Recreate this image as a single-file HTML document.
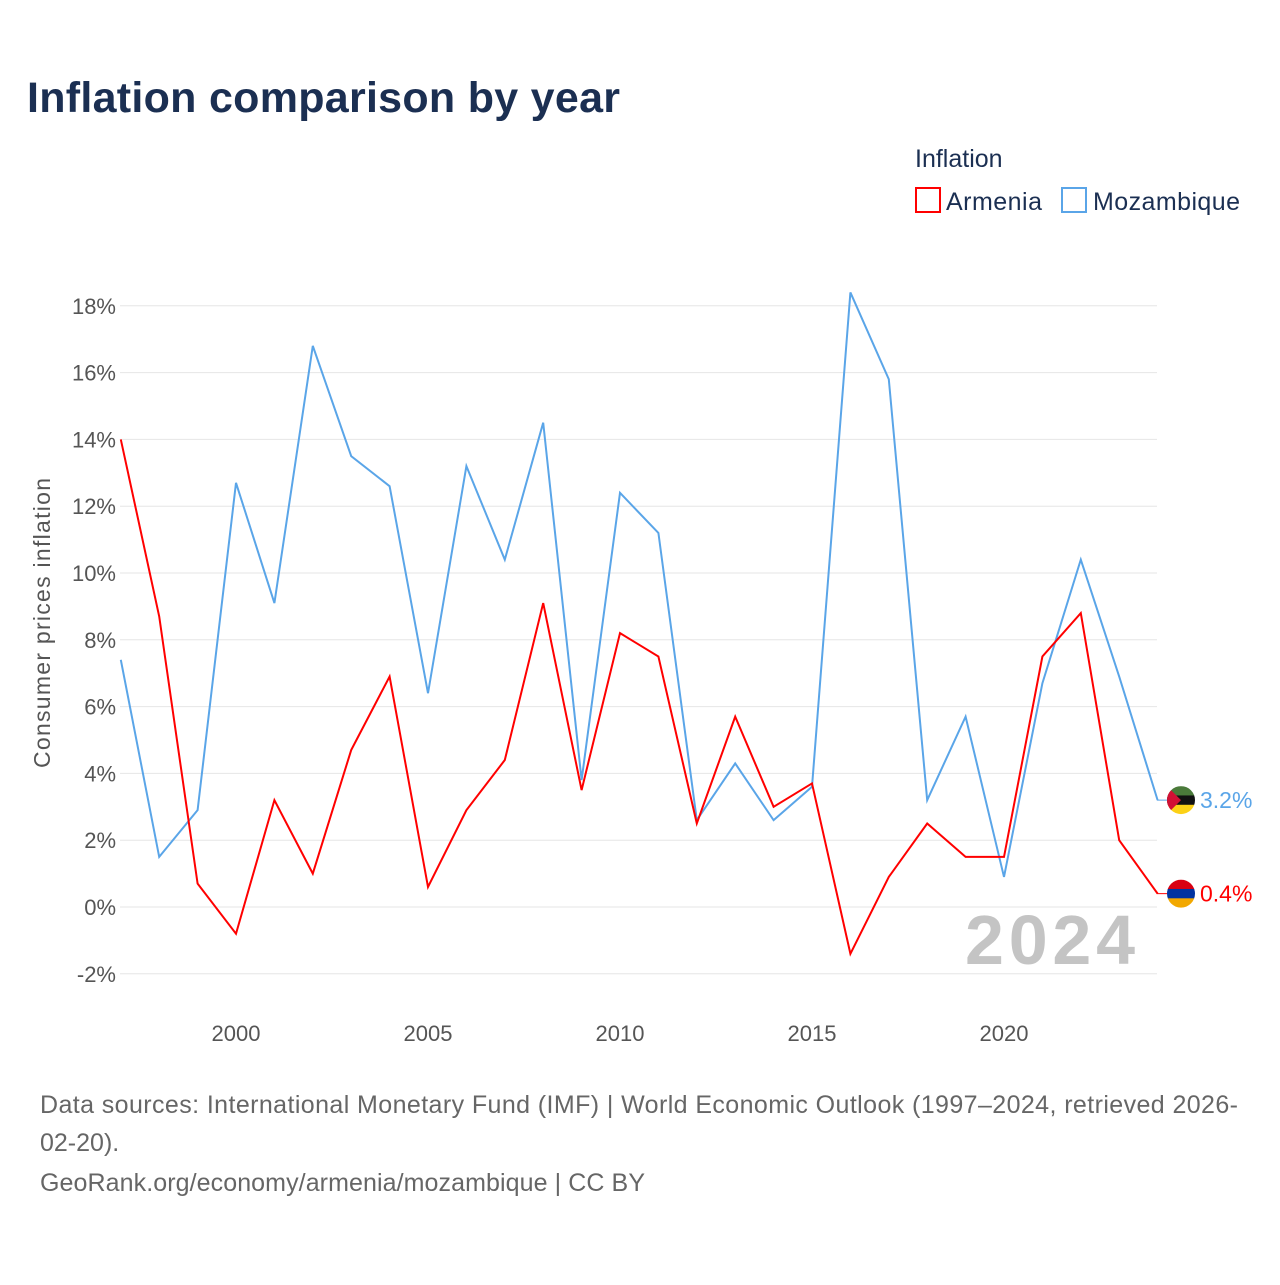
<!DOCTYPE html>
<html><head><meta charset="utf-8"><style>
body{margin:0;background:#fff;font-family:"Liberation Sans",sans-serif}
</style></head><body>
<svg id="chart" width="1280" height="1280" xmlns="http://www.w3.org/2000/svg">
<defs>
<clipPath id="cm"><circle cx="1181" cy="0" r="14"/></clipPath>
</defs>
<text x="27" y="112" font-size="43" font-weight="bold" fill="#1b2f52" textLength="593">Inflation comparison by year</text>
<text x="915" y="167" font-size="25" fill="#1b2f52">Inflation</text>
<g><rect x="916" y="188" width="24" height="24" fill="none" stroke="#f00" stroke-width="2"/><text x="946" y="210" font-size="25" fill="#1b2f52" textLength="96">Armenia</text></g>
<g><rect x="1062" y="188" width="24" height="24" fill="none" stroke="#5aa5e8" stroke-width="2"/><text x="1093" y="210" font-size="25" fill="#1b2f52" textLength="147">Mozambique</text></g>
<g id="grid"></g><g id="xt"></g><g id="series"></g>
<text x="1135" y="964" font-size="70" font-weight="bold" fill="#c4c4c4" text-anchor="end" textLength="170">2024</text>
<text transform="translate(50,623) rotate(-90)" font-size="23" fill="#555" text-anchor="middle" textLength="290">Consumer prices inflation</text>
<text x="40" y="1113" font-size="25" fill="#666" textLength="1198">Data sources: International Monetary Fund (IMF) | World Economic Outlook (1997–2024, retrieved 2026-</text>
<text x="40" y="1151" font-size="25" fill="#666">02-20).</text>
<text x="40" y="1191" font-size="25" fill="#666" textLength="605">GeoRank.org/economy/armenia/mozambique | CC BY</text>
</svg>
<script>
const years=[1997,1998,1999,2000,2001,2002,2003,2004,2005,2006,2007,2008,2009,2010,2011,2012,2013,2014,2015,2016,2017,2018,2019,2020,2021,2022,2023,2024];
const armenia=[14.0,8.7,0.7,-0.8,3.2,1.0,4.7,6.9,0.6,2.9,4.4,9.1,3.5,8.2,7.5,2.5,5.7,3.0,3.7,-1.4,0.9,2.5,1.5,1.5,7.5,8.8,2.0,0.4];
const mozambique=[7.4,1.5,2.9,12.7,9.1,16.8,13.5,12.6,6.4,13.2,10.4,14.5,3.8,12.4,11.2,2.6,4.3,2.6,3.6,18.4,15.8,3.2,5.7,0.9,6.7,10.4,6.9,3.2];
const yTicks=[-2,0,2,4,6,8,10,12,14,16,18];
const xTicks=[2000,2005,2010,2015,2020];
const NS="http://www.w3.org/2000/svg";
const X=y=>120.8+(y-1997)*38.4;
const Y=v=>907-v*33.4;
function mk(t,a,p){const e=document.createElementNS(NS,t);for(const k in a)e.setAttribute(k,a[k]);p.appendChild(e);return e;}
const g=document.getElementById('grid');
yTicks.forEach(v=>{
 const l=mk('line',{x1:120,x2:1157,y1:Y(v),y2:Y(v),stroke:'#e6e6e6','stroke-width':1},g);
 
 
 const t=mk('text',{x:116,y:Y(v)+8,'font-size':22,fill:'#555','text-anchor':'end'},g);
 t.textContent=v+'%';
 
 
});
const xt=document.getElementById('xt');
xTicks.forEach(y=>{
 const t=mk('text',{x:X(y),y:1041,'font-size':22,fill:'#555','text-anchor':'middle'},xt);
 t.textContent=y;
 
 
});
const s=document.getElementById('series');
function line(data,color,name,stripes){
 const d=data.map((v,i)=>(i?'L':'M')+X(years[i])+','+Y(v)).join(' ');
 const p=mk('path',{d:d,fill:'none',stroke:color,'stroke-width':2},s);
 
 
 const last=data[data.length-1], ly=Y(last);
 mk('line',{x1:1157,x2:1167,y1:ly,y2:ly,stroke:color,'stroke-width':1},s);
 const f=mk('g',{transform:'translate(0,'+ly+')','clip-path':'url(#cm)'},s);
 
 
 const h=28/stripes.length;
 stripes.forEach((c,i)=>mk('rect',{x:1167,y:-14+i*h,width:28,height:h+0.5,fill:c},f));
 if(name==='mozambique'){mk('polygon',{points:'1167,-14 1181,0 1167,14',fill:'#d21034'},f);}
 const t=mk('text',{x:1200,y:ly+8,'font-size':23,fill:color},s);
 t.textContent=last.toFixed(1)+'%';
 
 
}
line(mozambique,'#5aa5e8','mozambique',['#4a7a3a','#111','#fcd116']);
line(armenia,'#f00','armenia',['#d90012','#0033a0','#f2a800']);
</script>
</body></html>
